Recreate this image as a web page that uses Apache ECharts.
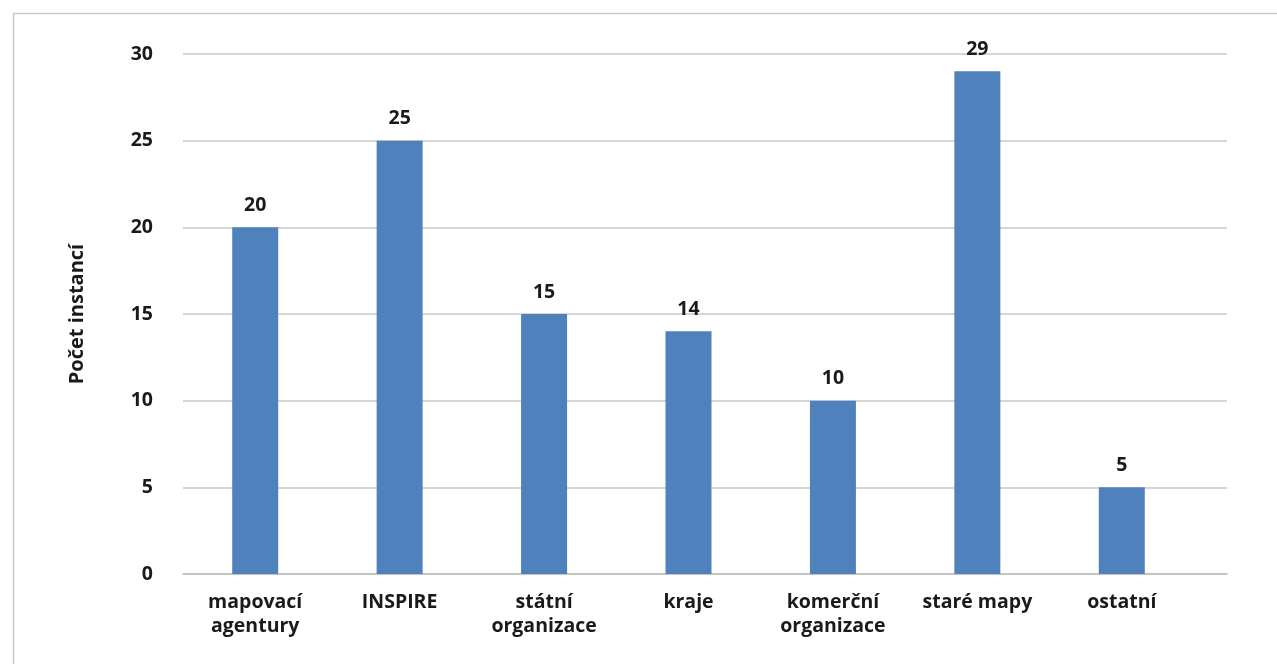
<!DOCTYPE html>
<html><head><meta charset="utf-8">
<script src="https://cdn.jsdelivr.net/npm/echarts@6/dist/echarts.min.js"></script>
<style>html,body{margin:0;padding:0;background:#fff}#c{width:1277px;height:664px}</style>
</head><body><div id="c"></div>
<script>
const categories = ['mapovací\nagentury','INSPIRE','státní\norganizace','kraje','komerční\norganizace','staré mapy','ostatní'];
const values = [20,25,15,14,10,29,5];
const yTicks = {min:0,max:30,interval:5};
const yTitle = 'Počet instancí';

const font = '"Open Sans", "Noto Sans", sans-serif';
const chart = echarts.init(document.getElementById('c'), null, {renderer:'canvas'});
chart.setOption({
  animation:false,
  backgroundColor:'#fff',
  graphic:[{type:'rect',left:11,top:11,shape:{width:1400,height:800},style:{fill:'none',stroke:'#c9c9c9',lineWidth:1.5},z:-1}],
  grid:[
    {left:183,right:50,top:54,bottom:90},
    {left:183,width:1011,top:54,bottom:90}
  ],
  xAxis:[
    {gridIndex:0,type:'value',min:0,max:1,axisLine:{show:true,onZero:false,lineStyle:{color:'#bfbfbf',width:1.5}},axisTick:{show:false},axisLabel:{show:false},splitLine:{show:false}},
    {gridIndex:1,type:'category',data:categories,axisLine:{show:false},axisTick:{show:false},
     axisLabel:{color:'#1a1a1a',fontFamily:font,fontWeight:'bold',fontSize:19.5,lineHeight:24,margin:16,interval:0}}
  ],
  yAxis:[
    {gridIndex:0,type:'value',min:yTicks.min,max:yTicks.max,interval:yTicks.interval,
     name:yTitle,nameLocation:'middle',nameGap:96,nameRotate:90,
     nameTextStyle:{color:'#1a1a1a',fontFamily:font,fontWeight:'bold',fontSize:20},
     axisLine:{show:false},axisTick:{show:false},
     axisLabel:{color:'#1a1a1a',fontFamily:font,fontWeight:'bold',fontSize:19.5,margin:30},
     splitLine:{lineStyle:{color:'#c8c8c8',width:1.5}}},
    {gridIndex:1,type:'value',min:yTicks.min,max:yTicks.max,interval:yTicks.interval,show:false,splitLine:{show:false}}
  ],
  series:[{
    type:'bar',xAxisIndex:1,yAxisIndex:1,data:values,barWidth:46,
    itemStyle:{color:'#4f81bd'},
    label:{show:true,position:'top',distance:12,color:'#1a1a1a',fontFamily:font,fontWeight:'bold',fontSize:19.5}
  }]
});
</script></body></html>
